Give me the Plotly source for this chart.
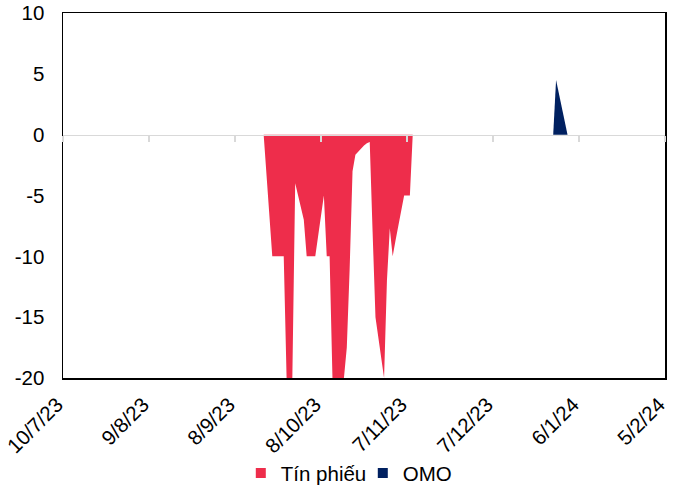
import plotly.graph_objects as go

# ---- data ----
tick_dates = ["2023-07-10", "2023-08-09", "2023-09-08", "2023-10-08",
              "2023-11-07", "2023-12-07", "2024-01-06", "2024-02-05"]
tick_labels = ["10/7/23", "9/8/23", "8/9/23", "8/10/23",
               "7/11/23", "7/12/23", "6/1/24", "5/2/24"]

y_ticks = [10, 5, 0, -5, -10, -15, -20]
y_tick_labels = ["10", "5", "0", "-5", "-10", "-15", "-20"]

tinphieu_dates = ["2023-09-18", "2023-09-21", "2023-09-22", "2023-09-25", "2023-09-26",
                  "2023-09-27", "2023-09-28", "2023-09-29", "2023-10-02", "2023-10-03",
                  "2023-10-04", "2023-10-05", "2023-10-06", "2023-10-09", "2023-10-10",
                  "2023-10-11", "2023-10-12", "2023-10-13", "2023-10-16", "2023-10-17",
                  "2023-10-18", "2023-10-19", "2023-10-20", "2023-10-23", "2023-10-24",
                  "2023-10-25", "2023-10-26", "2023-10-27", "2023-10-30", "2023-10-31",
                  "2023-11-01", "2023-11-02", "2023-11-03", "2023-11-06", "2023-11-07",
                  "2023-11-08", "2023-11-09"]
tinphieu_values = [0, -10, -10, -10, -20,
                   -20, -20, -4, -7, -10,
                   -10, -10, -10, -5, -10,
                   -10, -20, -20, -20, -17.5,
                   -11, -3, -1.65, -0.9, -0.7,
                   -0.6, -8, -15, -20, -12,
                   -7.7, -10, -8.7, -5, -5,
                   -5, 0]

omo_dates = ["2023-12-28", "2023-12-29", "2024-01-02"]
omo_values = [0, 4.5, 0]

y_min, y_max = -20, 10

RED = "#EE2D4B"
NAVY = "#002060"
FONT = "Arial, Liberation Sans, sans-serif"

fig = go.Figure()
fig.add_trace(go.Scatter(x=tinphieu_dates, y=tinphieu_values, mode="none",
                         fill="tozeroy", fillcolor=RED, showlegend=False,
                         hoverinfo="skip"))
fig.add_trace(go.Scatter(x=omo_dates, y=omo_values, mode="none",
                         fill="tozeroy", fillcolor=NAVY, showlegend=False,
                         hoverinfo="skip"))
# legend entries
fig.add_trace(go.Scatter(x=[None], y=[None], mode="markers", name="Tín phiếu",
                         marker=dict(symbol="square", size=10, color=RED)))
fig.add_trace(go.Scatter(x=[None], y=[None], mode="markers", name="OMO",
                         marker=dict(symbol="square", size=10, color=NAVY)))
# carrier for the zero-line axis
fig.add_trace(go.Scatter(x=[None], y=[None], xaxis="x2", mode="none",
                         showlegend=False, hoverinfo="skip"))

fig.update_layout(
    width=681, height=505,
    margin=dict(l=63, r=16, t=12.5, b=112.8),
    paper_bgcolor="white", plot_bgcolor="white",
    font=dict(family=FONT, size=20, color="black"),
    hovermode=False,
    xaxis=dict(type="date", range=[tick_dates[0], tick_dates[-1]],
               tickvals=tick_dates, ticktext=tick_labels, tickangle=-45,
               showgrid=False, zeroline=False, showline=True, linecolor="black",
               linewidth=1.5, mirror=True, ticks="", ticklabelstandoff=5,
               ticklabelshift=-6, tickfont=dict(size=20.5), automargin=False),
    xaxis2=dict(type="date", range=[tick_dates[0], tick_dates[-1]], overlaying="x",
                anchor="free", position=(0 - y_min) / (y_max - y_min),
                tickvals=tick_dates, showticklabels=False, showgrid=False,
                zeroline=False, showline=True, linecolor="#D9D9D9", linewidth=1.6,
                ticks="outside", ticklen=6, tickwidth=1.5, tickcolor="#D9D9D9",
                automargin=False),
    yaxis=dict(range=[y_min, y_max], tickvals=y_ticks, ticktext=y_tick_labels,
               showgrid=False, zeroline=False, showline=True, linecolor="black",
               linewidth=1.5, mirror=True, ticks="", ticklabelstandoff=13,
               tickfont=dict(size=20.5), automargin=False),
    legend=dict(orientation="h", x=0.498, xanchor="center", y=-0.2607,
                yanchor="middle", font=dict(size=20.5), itemwidth=30,
                entrywidth=77, entrywidthmode="pixels",
                bgcolor="rgba(0,0,0,0)"),
)

page_js = (
    "document.documentElement.style.margin='0';"
    "document.documentElement.style.overflow='hidden';"
    "document.body.style.margin='0';"
    "document.body.style.overflow='hidden';"
    "var gd=document.getElementById('{plot_id}');"
    "gd.style.position='absolute';gd.style.left='0px';gd.style.top='0px';"
)

fig.write_html("out.html", config={"displayModeBar": False, "staticPlot": True},
               post_script=page_js)
